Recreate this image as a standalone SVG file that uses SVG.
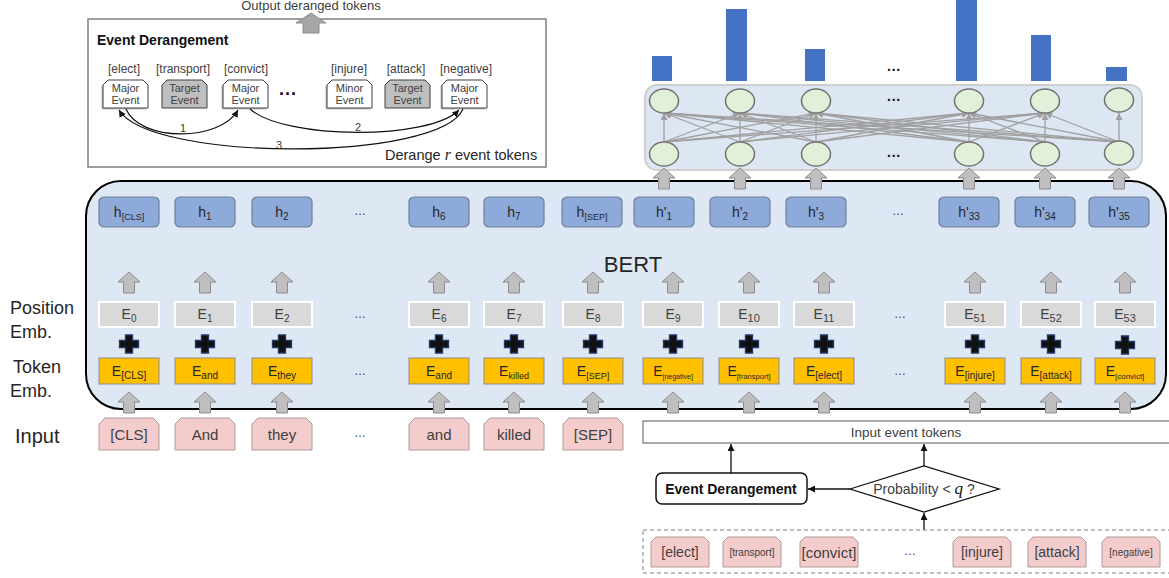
<svg xmlns="http://www.w3.org/2000/svg" xmlns:xlink="http://www.w3.org/1999/xlink" width="1169" height="578" viewBox="0 0 1169 578">
<defs>
<style>
text{font-family:"Liberation Sans",Arial,sans-serif;}
.ua{fill:#bfbfbf;stroke:#8c8c8c;stroke-width:1}
.hb{fill:#8eaadb;stroke:#6f7f95;stroke-width:1.2}
.pe{fill:#d9d9d9;stroke:#ffffff;stroke-width:2}
.te{fill:#ffc000;stroke:#8c8c8c;stroke-width:1}
.pk{fill:#f4cccc;stroke:#b09a9a;stroke-width:1}
.pl{fill:#111111;stroke:#1f3864;stroke-width:1.3}
.nd{fill:#e2efd9;stroke:#767171;stroke-width:1.5}
.nn{stroke:#a0a0a0;stroke-width:1.3;fill:none;marker-end:url(#ga)}
.bar{fill:#4472c4}
.ht{font-size:14px;fill:#262626;text-anchor:middle}
.et{font-size:14px;fill:#404040;text-anchor:middle}
.tt{font-size:14px;fill:#262626;text-anchor:middle}
.it{font-size:15px;fill:#404040;text-anchor:middle}
.dots{font-size:12px;fill:#404040;text-anchor:middle}
.bd{font-size:14px;font-weight:bold;fill:#111;text-anchor:middle}
.lbl{font-size:18px;fill:#262626}
.ev{fill:#ffffff;stroke:#404040;stroke-width:1}
.evg{fill:#bfbfbf;stroke:#404040;stroke-width:1}
.evs{fill:#bfbfbf;stroke:none}
.evt{font-size:11px;fill:#404040;text-anchor:middle}
.evl{font-size:12px;fill:#404040;text-anchor:middle}
.cur{fill:none;stroke:#111;stroke-width:1.2;marker-end:url(#ba)}
.flow{fill:none;stroke:#111;stroke-width:1.3;marker-end:url(#ba)}
</style>
<marker id="ga" viewBox="0 0 10 10" refX="10" refY="5" markerWidth="8" markerHeight="7" markerUnits="userSpaceOnUse" orient="auto"><path d="M0,0 L10,5 L0,10 z" fill="#a0a0a0"/></marker>
<marker id="ba" viewBox="0 0 10 10" refX="10" refY="5" markerWidth="7" markerHeight="7" markerUnits="userSpaceOnUse" orient="auto"><path d="M0,0 L10,5 L0,10 z" fill="#111"/></marker>
<path id="ua" d="M0,0 L11,10 L5.5,10 L5.5,21 L-5.5,21 L-5.5,10 L-11,10 Z"/>
<path id="plus" d="M-3.5,-9 h7 v5.5 h6 v7 h-6 v5.5 h-7 v-5.5 h-6 v-7 h6 z"/>
<path id="tok" d="M6,0 H54 L60,6 V32 H0 V6 Z"/>
<path id="tok2" d="M5,0 H53 L58,5 V30 H0 V5 Z"/>
<path id="evb" d="M5,0 H40 L45,5 V28 H0 V5 Z"/>
</defs>

<!-- Top-left Event Derangement box -->
<g id="derangement-box">
<rect x="88" y="19" width="458" height="148" fill="#ffffff" stroke="#7f7f7f" stroke-width="1.5"/>
<text x="97" y="45" font-size="14" font-weight="bold" fill="#111">Event Derangement</text>
<text class="evl" x="124" y="73">[elect]</text>
<text class="evl" x="183" y="73">[transport]</text>
<text class="evl" x="246" y="73">[convict]</text>
<text class="evl" x="349" y="73">[injure]</text>
<text class="evl" x="406" y="73">[attack]</text>
<text class="evl" x="466" y="73">[negative]</text>
<g id="ev1"><use href="#evb" class="evs" x="101.5" y="81.5"/><use href="#evb" class="ev" x="103" y="80"/><text class="evt" x="125.5" y="92">Major</text><text class="evt" x="125.5" y="104">Event</text></g>
<g id="ev2"><use href="#evb" class="evg" x="162" y="80"/><text class="evt" x="184.5" y="92">Target</text><text class="evt" x="184.5" y="104">Event</text></g>
<g id="ev3"><use href="#evb" class="evs" x="221.5" y="81.5"/><use href="#evb" class="ev" x="223" y="80"/><text class="evt" x="245.5" y="92">Major</text><text class="evt" x="245.5" y="104">Event</text></g>
<text x="288" y="100" font-size="18" font-weight="bold" fill="#111" text-anchor="middle">···</text>
<g id="ev4"><use href="#evb" class="evs" x="325.5" y="81.5"/><use href="#evb" class="ev" x="327" y="80"/><text class="evt" x="349.5" y="92">Minor</text><text class="evt" x="349.5" y="104">Event</text></g>
<g id="ev5"><use href="#evb" class="evg" x="385" y="80"/><text class="evt" x="407.5" y="92">Target</text><text class="evt" x="407.5" y="104">Event</text></g>
<g id="ev6"><use href="#evb" class="evs" x="440.5" y="81.5"/><use href="#evb" class="ev" x="442" y="80"/><text class="evt" x="464.5" y="92">Major</text><text class="evt" x="464.5" y="104">Event</text></g>
<text x="385" y="160" font-size="14.5" fill="#262626">Derange <tspan font-family="Liberation Serif,serif" font-style="italic" font-size="16">r</tspan> event tokens</text>
</g>

<g id="derangement-arrows">
<path class="cur" d="M126,109 C140,142 220,142 238,110"/>
<path class="cur" d="M250,109 C285,140 430,140 459,110"/>
<path class="cur" d="M463,109 C440,162 150,162 119,110"/>
<text class="evt" x="183" y="132">1</text>
<text class="evt" x="358" y="131">2</text>
<text class="evt" x="279" y="149">3</text>
</g>

<g id="output-arrow">
<path d="M311,13 L326,23 L319,23 L319,33 L303,33 L303,23 L296,23 Z" fill="#a6a6a6" stroke="#8c8c8c" stroke-width="1"/>
<text x="311" y="10" font-size="13" fill="#404040" text-anchor="middle">Output deranged tokens</text>
</g>

<!-- Bars -->
<g id="bars">
<rect class="bar" x="652" y="56" width="20" height="25"/>
<rect class="bar" x="726" y="9" width="21" height="72"/>
<rect class="bar" x="805" y="49" width="20" height="32"/>
<rect class="bar" x="956" y="0" width="21" height="81"/>
<rect class="bar" x="1031" y="35" width="20" height="46"/>
<rect class="bar" x="1106" y="67" width="21" height="14"/>
<text x="894" y="75" font-size="14" font-weight="bold" fill="#111" text-anchor="middle">···</text>
</g>

<!-- NN panel -->
<g id="nn-panel">
<rect x="645" y="85" width="497" height="85" rx="12" fill="#dde7f3" stroke="#d0d0d0" stroke-width="2"/>
</g>
<g id="nn-connectors">
<path class="nn" d="M664,142 L664,113"/><path class="nn" d="M740,142 L664,113"/><path class="nn" d="M816,142 L664,113"/><path class="nn" d="M969,142 L664,113"/><path class="nn" d="M1045,142 L664,113"/><path class="nn" d="M1119,142 L664,113"/>
<path class="nn" d="M664,142 L740,113"/><path class="nn" d="M740,142 L740,113"/><path class="nn" d="M816,142 L740,113"/><path class="nn" d="M969,142 L740,113"/><path class="nn" d="M1045,142 L740,113"/><path class="nn" d="M1119,142 L740,113"/>
<path class="nn" d="M664,142 L816,113"/><path class="nn" d="M740,142 L816,113"/><path class="nn" d="M816,142 L816,113"/><path class="nn" d="M969,142 L816,113"/><path class="nn" d="M1045,142 L816,113"/><path class="nn" d="M1119,142 L816,113"/>
<path class="nn" d="M664,142 L969,113"/><path class="nn" d="M740,142 L969,113"/><path class="nn" d="M816,142 L969,113"/><path class="nn" d="M969,142 L969,113"/><path class="nn" d="M1045,142 L969,113"/><path class="nn" d="M1119,142 L969,113"/>
<path class="nn" d="M664,142 L1045,113"/><path class="nn" d="M740,142 L1045,113"/><path class="nn" d="M816,142 L1045,113"/><path class="nn" d="M969,142 L1045,113"/><path class="nn" d="M1045,142 L1045,113"/><path class="nn" d="M1119,142 L1045,113"/>
<path class="nn" d="M1119,142 L1119,113"/>
</g>
<g id="nn-nodes">
<ellipse class="nd" cx="664" cy="101" rx="14.5" ry="12"/>
<ellipse class="nd" cx="740" cy="101" rx="14.5" ry="12"/>
<ellipse class="nd" cx="816" cy="101" rx="14.5" ry="12"/>
<ellipse class="nd" cx="969" cy="101" rx="14.5" ry="12"/>
<ellipse class="nd" cx="1045" cy="101" rx="14.5" ry="12"/>
<ellipse class="nd" cx="1119" cy="100" rx="14.5" ry="12"/>
<ellipse class="nd" cx="664" cy="154" rx="14.5" ry="12"/>
<ellipse class="nd" cx="740" cy="154" rx="14.5" ry="12"/>
<ellipse class="nd" cx="816" cy="154" rx="14.5" ry="12"/>
<ellipse class="nd" cx="969" cy="154" rx="14.5" ry="12"/>
<ellipse class="nd" cx="1045" cy="154" rx="14.5" ry="12"/>
<ellipse class="nd" cx="1119" cy="153" rx="14.5" ry="12"/>
<text x="894" y="105" font-size="14" font-weight="bold" fill="#111" text-anchor="middle">···</text>
<text x="894" y="161" font-size="14" font-weight="bold" fill="#111" text-anchor="middle">···</text>
</g>

<!-- BERT -->
<g id="bert">
<rect x="86" y="181" width="1080" height="228" rx="35" fill="#dee8f4" stroke="#000" stroke-width="2"/>
<text x="633" y="272" font-size="22" fill="#262626" text-anchor="middle">BERT</text>
</g>

<g id="h-row">
<rect class="hb" x="99" y="197" width="60" height="30" rx="5"/><text class="ht" x="129" y="217">h<tspan font-size="9" dy="3">[CLS]</tspan></text>
<rect class="hb" x="175" y="197" width="60" height="30" rx="5"/><text class="ht" x="205" y="217">h<tspan font-size="10" dy="3">1</tspan></text>
<rect class="hb" x="252" y="197" width="60" height="30" rx="5"/><text class="ht" x="282" y="217">h<tspan font-size="10" dy="3">2</tspan></text>
<text class="dots" x="360" y="215">…</text>
<rect class="hb" x="409" y="197" width="60" height="30" rx="5"/><text class="ht" x="439" y="217">h<tspan font-size="10" dy="3">6</tspan></text>
<rect class="hb" x="484" y="197" width="60" height="30" rx="5"/><text class="ht" x="514" y="217">h<tspan font-size="10" dy="3">7</tspan></text>
<rect class="hb" x="562" y="197" width="60" height="30" rx="5"/><text class="ht" x="592" y="217">h<tspan font-size="9" dy="3">[SEP]</tspan></text>
<rect class="hb" x="634" y="197" width="60" height="30" rx="5"/><text class="ht" x="664" y="217">h'<tspan font-size="10" dy="3">1</tspan></text>
<rect class="hb" x="710" y="197" width="60" height="30" rx="5"/><text class="ht" x="740" y="217">h'<tspan font-size="10" dy="3">2</tspan></text>
<rect class="hb" x="786" y="197" width="60" height="30" rx="5"/><text class="ht" x="816" y="217">h'<tspan font-size="10" dy="3">3</tspan></text>
<text class="dots" x="898" y="215">…</text>
<rect class="hb" x="939" y="197" width="60" height="30" rx="5"/><text class="ht" x="969" y="217">h'<tspan font-size="10" dy="3">33</tspan></text>
<rect class="hb" x="1015" y="197" width="60" height="30" rx="5"/><text class="ht" x="1045" y="217">h'<tspan font-size="10" dy="3">34</tspan></text>
<rect class="hb" x="1089" y="197" width="60" height="30" rx="5"/><text class="ht" x="1119" y="217">h'<tspan font-size="10" dy="3">35</tspan></text>
</g>

<g id="inner-arrows">
<use href="#ua" class="ua" x="129" y="272"/><use href="#ua" class="ua" x="205" y="272"/><use href="#ua" class="ua" x="282" y="272"/>
<use href="#ua" class="ua" x="439" y="272"/><use href="#ua" class="ua" x="514" y="272"/><use href="#ua" class="ua" x="593" y="272"/>
<use href="#ua" class="ua" x="673" y="272"/><use href="#ua" class="ua" x="749" y="272"/><use href="#ua" class="ua" x="824" y="272"/>
<use href="#ua" class="ua" x="975" y="272"/><use href="#ua" class="ua" x="1051" y="272"/><use href="#ua" class="ua" x="1125" y="272"/>
</g>

<g id="position-emb">
<rect class="pe" x="99" y="302" width="60" height="25"/><text class="et" x="129" y="319">E<tspan font-size="10" dy="3">0</tspan></text>
<rect class="pe" x="175" y="302" width="60" height="25"/><text class="et" x="205" y="319">E<tspan font-size="10" dy="3">1</tspan></text>
<rect class="pe" x="252" y="302" width="60" height="25"/><text class="et" x="282" y="319">E<tspan font-size="10" dy="3">2</tspan></text>
<text class="dots" x="360" y="318">…</text>
<rect class="pe" x="409" y="302" width="60" height="25"/><text class="et" x="439" y="319">E<tspan font-size="10" dy="3">6</tspan></text>
<rect class="pe" x="484" y="302" width="60" height="25"/><text class="et" x="514" y="319">E<tspan font-size="10" dy="3">7</tspan></text>
<rect class="pe" x="563" y="302" width="60" height="25"/><text class="et" x="593" y="319">E<tspan font-size="10" dy="3">8</tspan></text>
<rect class="pe" x="643" y="302" width="60" height="25"/><text class="et" x="673" y="319">E<tspan font-size="10" dy="3">9</tspan></text>
<rect class="pe" x="719" y="302" width="60" height="25"/><text class="et" x="749" y="319">E<tspan font-size="11" dy="3">10</tspan></text>
<rect class="pe" x="794" y="302" width="60" height="25"/><text class="et" x="824" y="319">E<tspan font-size="11" dy="3">11</tspan></text>
<text class="dots" x="900" y="318">…</text>
<rect class="pe" x="945" y="302" width="60" height="25"/><text class="et" x="975" y="319">E<tspan font-size="11" dy="3">51</tspan></text>
<rect class="pe" x="1021" y="302" width="60" height="25"/><text class="et" x="1051" y="319">E<tspan font-size="11" dy="3">52</tspan></text>
<rect class="pe" x="1095" y="302" width="60" height="25"/><text class="et" x="1125" y="319">E<tspan font-size="11" dy="3">53</tspan></text>
</g>

<g id="plus-signs">
<use href="#plus" class="pl" x="129" y="344"/><use href="#plus" class="pl" x="205" y="344"/><use href="#plus" class="pl" x="282" y="344"/>
<use href="#plus" class="pl" x="439" y="344"/><use href="#plus" class="pl" x="514" y="344"/><use href="#plus" class="pl" x="593" y="344"/>
<use href="#plus" class="pl" x="673" y="344"/><use href="#plus" class="pl" x="749" y="344"/><use href="#plus" class="pl" x="824" y="344"/>
<use href="#plus" class="pl" x="975" y="344"/><use href="#plus" class="pl" x="1051" y="344"/><use href="#plus" class="pl" x="1125" y="345"/>
</g>

<g id="token-emb">
<rect class="te" x="99" y="358" width="60" height="26"/><text class="tt" x="129" y="376">E<tspan font-size="10" dy="3">[CLS]</tspan></text>
<rect class="te" x="175" y="358" width="60" height="26"/><text class="tt" x="205" y="376">E<tspan font-size="10" dy="3">and</tspan></text>
<rect class="te" x="252" y="358" width="60" height="26"/><text class="tt" x="282" y="376">E<tspan font-size="10" dy="3">they</tspan></text>
<text class="dots" x="360" y="375">…</text>
<rect class="te" x="409" y="358" width="60" height="26"/><text class="tt" x="439" y="376">E<tspan font-size="10" dy="3">and</tspan></text>
<rect class="te" x="484" y="358" width="60" height="26"/><text class="tt" x="514" y="376">E<tspan font-size="9" dy="3">killed</tspan></text>
<rect class="te" x="563" y="358" width="60" height="26"/><text class="tt" x="593" y="376">E<tspan font-size="9" dy="3">[SEP]</tspan></text>
<rect class="te" x="643" y="358" width="60" height="26"/><text class="tt" x="673" y="376">E<tspan font-size="7" dy="3">[negative]</tspan></text>
<rect class="te" x="719" y="358" width="60" height="26"/><text class="tt" x="749" y="376">E<tspan font-size="7.5" dy="3">[transport]</tspan></text>
<rect class="te" x="794" y="358" width="60" height="26"/><text class="tt" x="824" y="376">E<tspan font-size="10" dy="3">[elect]</tspan></text>
<text class="dots" x="900" y="375">…</text>
<rect class="te" x="945" y="358" width="60" height="26"/><text class="tt" x="975" y="376">E<tspan font-size="10" dy="3">[injure]</tspan></text>
<rect class="te" x="1021" y="358" width="60" height="26"/><text class="tt" x="1051" y="376">E<tspan font-size="10" dy="3">[attack]</tspan></text>
<rect class="te" x="1095" y="358" width="60" height="26"/><text class="tt" x="1125" y="376">E<tspan font-size="8" dy="3">[convict]</tspan></text>
</g>

<g id="bottom-arrows">
<use href="#ua" class="ua" x="129" y="392"/><use href="#ua" class="ua" x="205" y="392"/><use href="#ua" class="ua" x="282" y="392"/>
<use href="#ua" class="ua" x="439" y="392"/><use href="#ua" class="ua" x="514" y="392"/><use href="#ua" class="ua" x="593" y="392"/>
<use href="#ua" class="ua" x="673" y="392"/><use href="#ua" class="ua" x="749" y="392"/><use href="#ua" class="ua" x="824" y="392"/>
<use href="#ua" class="ua" x="975" y="392"/><use href="#ua" class="ua" x="1051" y="392"/><use href="#ua" class="ua" x="1125" y="392"/>
</g>

<g id="top-arrows">
<use href="#ua" class="ua" x="664" y="168"/><use href="#ua" class="ua" x="740" y="168"/><use href="#ua" class="ua" x="816" y="168"/>
<use href="#ua" class="ua" x="969" y="168"/><use href="#ua" class="ua" x="1045" y="168"/><use href="#ua" class="ua" x="1119" y="168"/>
</g>

<g id="row-labels">
<text class="lbl" x="10" y="314">Position</text>
<text class="lbl" x="10" y="338">Emb.</text>
<text class="lbl" x="13" y="373">Token</text>
<text class="lbl" x="10" y="397">Emb.</text>
<text x="15" y="443" font-size="20" fill="#262626">Input</text>
</g>

<g id="input-tokens">
<use href="#tok" class="pk" x="99" y="418"/><text class="it" x="129" y="440">[CLS]</text>
<use href="#tok" class="pk" x="175" y="418"/><text class="it" x="205" y="440">And</text>
<use href="#tok" class="pk" x="252" y="418"/><text class="it" x="282" y="440">they</text>
<text class="dots" x="360" y="437">…</text>
<use href="#tok" class="pk" x="409" y="418"/><text class="it" x="439" y="440">and</text>
<use href="#tok" class="pk" x="484" y="418"/><text class="it" x="514" y="440">killed</text>
<use href="#tok" class="pk" x="563" y="418"/><text class="it" x="593" y="440">[SEP]</text>
</g>

<g id="input-event-tokens">
<rect x="643" y="421" width="530" height="22" fill="#ffffff" stroke="#595959" stroke-width="1"/>
<text x="906" y="437" font-size="13.5" fill="#404040" text-anchor="middle">Input event tokens</text>
</g>

<g id="event-derangement-node">
<rect x="656" y="473" width="151" height="31" rx="6" fill="#ffffff" stroke="#111" stroke-width="1.5"/>
<text class="bd" x="731" y="494">Event Derangement</text>
</g>

<g id="probability-node">
<polygon points="850,489 924,466 999,489 924,512" fill="#ffffff" stroke="#111" stroke-width="1.3"/>
<text x="924" y="494" font-size="14" fill="#404040" text-anchor="middle">Probability &lt; <tspan font-family="Liberation Serif,serif" font-style="italic" font-size="17" fill="#111">q</tspan> ?</text>
</g>

<g id="flow-connectors">
<path class="flow" d="M924,530 L924,513"/>
<path class="flow" d="M850,489 L808,489"/>
<path class="flow" d="M924,466 L924,444"/>
<path class="flow" d="M731,473 L731,444"/>
</g>

<g id="event-token-pool">
<rect x="643" y="530" width="530" height="43" fill="none" stroke="#7f7f7f" stroke-width="1" stroke-dasharray="4,3"/>
<use href="#tok2" class="pk" x="651" y="537"/><text x="680" y="557" font-size="14" fill="#404040" text-anchor="middle">[elect]</text>
<use href="#tok2" class="pk" x="723" y="537"/><text x="752" y="556" font-size="10" fill="#404040" text-anchor="middle">[transport]</text>
<use href="#tok2" class="pk" x="800" y="537"/><text x="829" y="558" font-size="15" fill="#404040" text-anchor="middle">[convict]</text>
<text class="dots" x="910" y="555">…</text>
<use href="#tok2" class="pk" x="953" y="537"/><text x="982" y="557" font-size="14" fill="#404040" text-anchor="middle">[injure]</text>
<use href="#tok2" class="pk" x="1028" y="537"/><text x="1057" y="557" font-size="14" fill="#404040" text-anchor="middle">[attack]</text>
<use href="#tok2" class="pk" x="1102" y="537"/><text x="1131" y="556" font-size="10" fill="#404040" text-anchor="middle">[negative]</text>
</g>
</svg>
